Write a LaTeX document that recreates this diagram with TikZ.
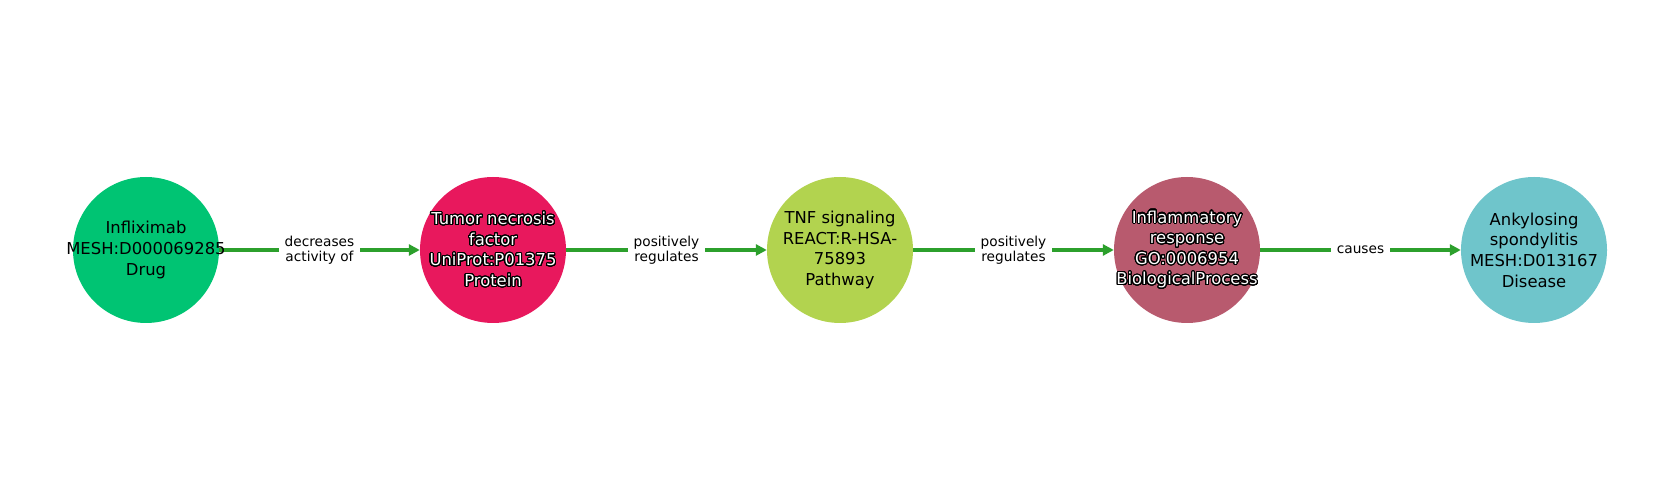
\documentclass[tikz,border=0pt]{standalone}
\usepackage{fontspec}
\setmainfont{DejaVu Sans}
\usepackage{contour}
\contourlength{1.1pt}
\contournumber{32}
\usetikzlibrary{arrows.meta}
\definecolor{cdrug}{RGB}{0,196,115}
\definecolor{cprot}{RGB}{232,24,93}
\definecolor{cpath}{RGB}{178,211,79}
\definecolor{cbio}{RGB}{184,90,110}
\definecolor{cdis}{RGB}{111,197,203}
\definecolor{cedge}{RGB}{44,160,44}
\newcommand\otext[1]{\contour{black}{\textcolor{white}{#1}}}
\tikzset{
  ent/.style={circle, minimum size=146pt, inner sep=0pt},
  enttext/.style={inner sep=0pt, align=center,
    font=\fontsize{16.4}{20.6}\selectfont},
  rel/.style={draw=cedge, line width=3.5pt, -{Triangle[length=11pt,width=11pt]}},
  lbl/.style={fill=white, inner xsep=6pt, inner ysep=2pt, align=center,
    font=\fontsize{13.7}{15.5}\selectfont, text=black}
}
\begin{document}
\begin{tikzpicture}[x=1pt,y=1pt]
\useasboundingbox (0,0) rectangle (1680,500);
\node[ent, fill=cdrug] (n1) at (146,250) {};
\node[ent, fill=cprot] (n2) at (493,250) {};
\node[ent, fill=cpath] (n3) at (840,250) {};
\node[ent, fill=cbio] (n4) at (1187,250) {};
\node[ent, fill=cdis] (n5) at (1534,250) {};
\draw[rel] (n1) -- (n2) node[midway, lbl] {decreases\\activity of};
\draw[rel] (n2) -- (n3) node[midway, lbl] {positively\\regulates};
\draw[rel] (n3) -- (n4) node[midway, lbl] {positively\\regulates};
\draw[rel] (n4) -- (n5) node[midway, lbl] {causes};
\node[enttext] (t1) at (n1) {Infliximab\\MESH:D000069285\\Drug};
\node[enttext] (t2) at (n2) {\otext{Tumor necrosis}\\\otext{factor}\\\otext{UniProt:P01375}\\\otext{Protein}};
\node[enttext] (t3) at (n3) {TNF signaling\\REACT:R-HSA-\\75893\\Pathway};
\node[enttext] (t4) at (n4) {\otext{Inflammatory}\\\otext{response}\\\otext{GO:0006954}\\\otext{BiologicalProcess}};
\node[enttext] (t5) at (n5) {Ankylosing\\spondylitis\\MESH:D013167\\Disease};
\end{tikzpicture}
\end{document}
